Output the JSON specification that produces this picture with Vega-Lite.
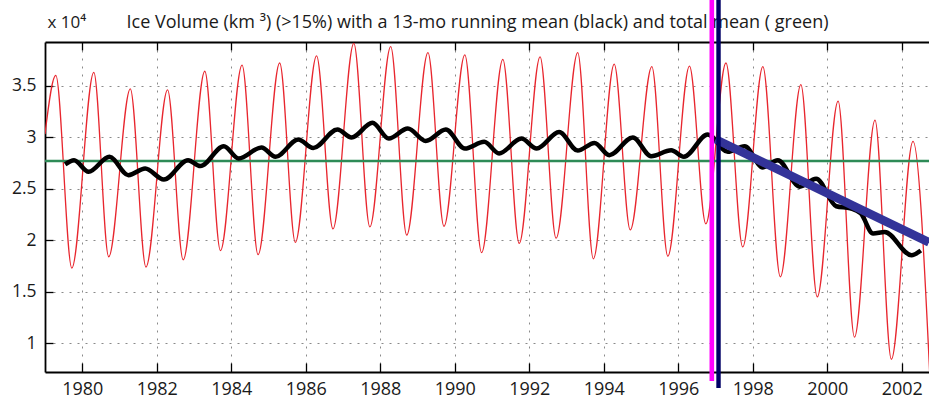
{
  "$schema": "https://vega.github.io/schema/vega-lite/v6.json",
  "autosize": {"type": "none"},
  "padding": {"left": 45, "top": 42, "right": 0, "bottom": 26},
  "width": 884,
  "height": 330,
  "background": "white",
  "config": {
    "view": {"stroke": null},
    "font": "Open Sans",
    "axis": {
      "labelFont": "Open Sans",
      "labelFontSize": 17.5,
      "labelColor": "#1a1a1a",
      "domainColor": "#000000",
      "domainWidth": 1.8,
      "tickColor": "#000000",
      "tickWidth": 1.3,
      "gridColor": "#8a8a8a",
      "gridDash": [2, 6],
      "gridWidth": 1,
      "titleFont": "Open Sans",
      "titleFontWeight": "normal"
    }
  },
  "datasets": {
    "red": [
      {"t": 1979.0, "v": 3.03}, {"t": 1979.29, "v": 3.60}, {"t": 1979.72, "v": 1.73},
      {"t": 1980.31, "v": 3.63}, {"t": 1980.71, "v": 1.84},
      {"t": 1981.29, "v": 3.47}, {"t": 1981.71, "v": 1.74},
      {"t": 1982.29, "v": 3.46}, {"t": 1982.71, "v": 1.81},
      {"t": 1983.29, "v": 3.64}, {"t": 1983.71, "v": 1.90},
      {"t": 1984.29, "v": 3.70}, {"t": 1984.72, "v": 1.86},
      {"t": 1985.30, "v": 3.72}, {"t": 1985.72, "v": 1.98},
      {"t": 1986.29, "v": 3.79}, {"t": 1986.73, "v": 2.11},
      {"t": 1987.29, "v": 3.91}, {"t": 1987.72, "v": 2.13},
      {"t": 1988.28, "v": 3.88}, {"t": 1988.71, "v": 2.05},
      {"t": 1989.28, "v": 3.82}, {"t": 1989.71, "v": 2.135},
      {"t": 1990.27, "v": 3.80}, {"t": 1990.72, "v": 1.88},
      {"t": 1991.29, "v": 3.755}, {"t": 1991.73, "v": 1.97},
      {"t": 1992.29, "v": 3.78}, {"t": 1992.72, "v": 2.02},
      {"t": 1993.30, "v": 3.82}, {"t": 1993.72, "v": 1.82},
      {"t": 1994.28, "v": 3.71}, {"t": 1994.71, "v": 2.10},
      {"t": 1995.29, "v": 3.685}, {"t": 1995.72, "v": 1.845},
      {"t": 1996.30, "v": 3.69}, {"t": 1996.74, "v": 2.16},
      {"t": 1997.28, "v": 3.72}, {"t": 1997.73, "v": 1.935},
      {"t": 1998.27, "v": 3.685}, {"t": 1998.74, "v": 1.645},
      {"t": 1999.29, "v": 3.51}, {"t": 1999.73, "v": 1.45},
      {"t": 2000.29, "v": 3.35}, {"t": 2000.73, "v": 1.06},
      {"t": 2001.28, "v": 3.165}, {"t": 2001.72, "v": 0.845},
      {"t": 2002.30, "v": 2.96}, {"t": 2002.75, "v": 0.70}
    ],
    "black": [
      {"t": 1979.54, "v": 2.736}, {"t": 1979.78, "v": 2.777}, {"t": 1980.17, "v": 2.664},
      {"t": 1980.73, "v": 2.81}, {"t": 1981.24, "v": 2.632}, {"t": 1981.69, "v": 2.697},
      {"t": 1982.19, "v": 2.59}, {"t": 1982.84, "v": 2.777}, {"t": 1983.17, "v": 2.72},
      {"t": 1983.80, "v": 2.913}, {"t": 1984.20, "v": 2.794}, {"t": 1984.81, "v": 2.90},
      {"t": 1985.19, "v": 2.81}, {"t": 1985.80, "v": 2.978}, {"t": 1986.20, "v": 2.895},
      {"t": 1986.85, "v": 3.075}, {"t": 1987.23, "v": 2.997}, {"t": 1987.79, "v": 3.14},
      {"t": 1988.23, "v": 2.987}, {"t": 1988.74, "v": 3.084}, {"t": 1989.22, "v": 2.964},
      {"t": 1989.76, "v": 3.075}, {"t": 1990.27, "v": 2.89}, {"t": 1990.79, "v": 2.955},
      {"t": 1991.19, "v": 2.843}, {"t": 1991.79, "v": 2.987}, {"t": 1992.20, "v": 2.89},
      {"t": 1992.80, "v": 3.05}, {"t": 1993.30, "v": 2.87}, {"t": 1993.75, "v": 2.945},
      {"t": 1994.15, "v": 2.826}, {"t": 1994.78, "v": 2.997}, {"t": 1995.27, "v": 2.816},
      {"t": 1995.81, "v": 2.874}, {"t": 1996.15, "v": 2.81}, {"t": 1996.79, "v": 3.026},
      {"t": 1997.33, "v": 2.858}, {"t": 1997.78, "v": 2.913}, {"t": 1998.27, "v": 2.707},
      {"t": 1998.67, "v": 2.777}, {"t": 1999.26, "v": 2.52}, {"t": 1999.70, "v": 2.597},
      {"t": 2000.24, "v": 2.33}, {"t": 2000.62, "v": 2.31}, {"t": 2000.90, "v": 2.26},
      {"t": 2001.23, "v": 2.065}, {"t": 2001.54, "v": 2.08}, {"t": 2002.26, "v": 1.855},
      {"t": 2002.51, "v": 1.90}
    ],
    "trend": [
      {"t": 1997.0, "v": 2.98}, {"t": 2002.73, "v": 1.98}
    ]
  },
  "layer": [
    {
      "data": {"name": "red"},
      "mark": {"type": "line", "color": "#e8262e", "strokeWidth": 1.3, "interpolate": "monotone", "clip": true},
      "encoding": {
        "x": {"field": "t", "type": "quantitative",
              "scale": {"domain": [1979.0, 2002.73], "nice": false, "zero": false},
              "axis": {"orient": "bottom", "values": [1980, 1982, 1984, 1986, 1988, 1990, 1992, 1994, 1996, 1998, 2000, 2002],
                       "format": "d", "tickSize": -9, "labelPadding": 17, "labelFontSize": 18, "grid": true, "title": null, "labelFlush": false, "labelOverlap": false}},
        "y": {"field": "v", "type": "quantitative",
              "scale": {"domain": [0.7215, 3.924], "nice": false, "zero": false},
              "axis": {"orient": "left", "values": [1, 1.5, 2, 2.5, 3, 3.5], "format": ".1~f",
                       "tickSize": -8, "labelPadding": 17, "grid": true, "labelFlush": false,
                       "title": "x 10⁴", "titleAngle": 0, "titleAlign": "left", "titleBaseline": "alphabetic",
                       "titleX": 2, "titleY": -15, "titleFontSize": 17, "titleColor": "#1a1a1a"}}
      }
    },
    {
      "data": {"values": [{"v": 2.77}]},
      "mark": {"type": "rule", "color": "#2e8b57", "strokeWidth": 2.5},
      "encoding": {"y": {"field": "v", "type": "quantitative"}}
    },
    {
      "data": {"name": "black"},
      "mark": {"type": "line", "color": "#000000", "strokeWidth": 4.5, "interpolate": "monotone"},
      "encoding": {
        "x": {"field": "t", "type": "quantitative",
              "axis": {"orient": "top", "values": [1980, 1982, 1984, 1986, 1988, 1990, 1992, 1994, 1996, 1998, 2000, 2002],
                       "labels": false, "tickSize": -8, "grid": false,
                       "title": "Ice Volume (km ³) (>15%) with a 13-mo running mean (black) and total mean ( green)",
                       "titleFontSize": 18, "titleColor": "#1a1a1a", "titleAlign": "center", "titleBaseline": "alphabetic",
                       "titleAnchor": null, "titleX": 432, "titleY": -15}},
        "y": {"field": "v", "type": "quantitative"}
      }
    },
    {
      "data": {"name": "trend"},
      "mark": {"type": "line", "color": "#333399", "strokeWidth": 8.5},
      "encoding": {
        "x": {"field": "t", "type": "quantitative", "axis": null},
        "y": {"field": "v", "type": "quantitative"}
      }
    },
    {
      "data": {"values": [{"t": 1996.90, "v": 4.332, "v2": 0.634}]},
      "mark": {"type": "rule", "color": "#ff00ff", "strokeWidth": 4.6},
      "encoding": {
        "x": {"field": "t", "type": "quantitative", "axis": null},
        "y": {"field": "v", "type": "quantitative"},
        "y2": {"field": "v2"}
      }
    },
    {
      "data": {"values": [{"t": 1997.08, "v": 4.332, "v2": 0.566}]},
      "mark": {"type": "rule", "color": "#000066", "strokeWidth": 4.4},
      "encoding": {
        "x": {"field": "t", "type": "quantitative", "axis": null},
        "y": {"field": "v", "type": "quantitative"},
        "y2": {"field": "v2"}
      }
    }
  ],
  "resolve": {"axis": {"x": "independent"}}
}
